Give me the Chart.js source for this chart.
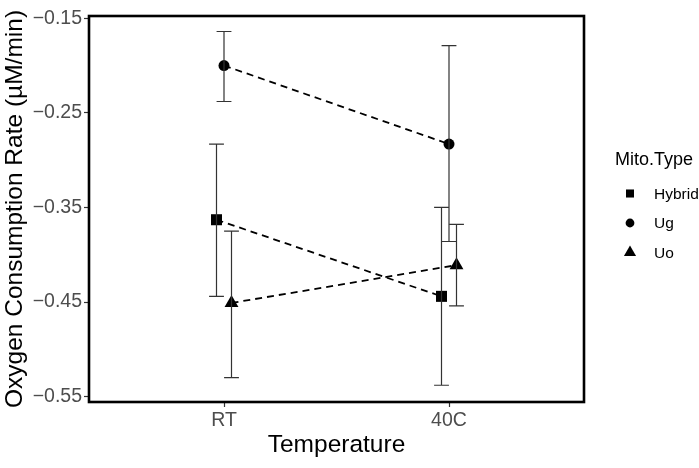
<!DOCTYPE html>
<html>
<head>
<meta charset="utf-8">
<script src="https://cdn.jsdelivr.net/npm/chart.js@4.4.0/dist/chart.umd.min.js"></script>
<style>
html, body { margin: 0; padding: 0; background: #fff; }
#wrap { width: 699px; height: 468px; }
</style>
</head>
<body>
<div id="wrap"><canvas id="chart" width="699" height="468"></canvas></div>
<script>
// data
const categories = ['RT', '40C'];
const seriesNames = ['Hybrid', 'Ug', 'Uo'];
const hybridMean = [-0.363, -0.444];
const hybridLow  = [-0.444, -0.538];
const hybridHigh = [-0.283, -0.350];
const ugMean = [-0.200, -0.283];
const ugLow  = [-0.238, -0.386];
const ugHigh = [-0.164, -0.179];
const uoMean = [-0.451, -0.411];
const uoLow  = [-0.530, -0.454];
const uoHigh = [-0.375, -0.368];
const yTicks = [-0.55, -0.45, -0.35, -0.25, -0.15];

const FONT = "'Liberation Sans', Arial, Helvetica, sans-serif";
const dodge = 0.1;      // position_dodge width
const capHalf = 0.033;  // errorbar half width (x units)
const styles = ['rect', 'circle', 'triangle'];
const radii = [7.8, 5.5, 8];
const legendRadii = [5.7, 4.4, 7];

const means = [hybridMean, ugMean, uoMean];
const lows = [hybridLow, ugLow, uoLow];
const highs = [hybridHigh, ugHigh, uoHigh];

const datasets = seriesNames.map((name, s) => {
    const off = (s - 1) * dodge / 3;
    return {
        label: name,
        data: categories.map((c, i) => ({ x: i + 1 + off, y: means[s][i] })),
        low: lows[s],
        high: highs[s],
        off: off,
        showLine: true,
        borderColor: '#000',
        borderWidth: 1.8,
        borderDash: [7, 5],
        pointStyle: styles[s],
        pointRadius: radii[s],
        pointHoverRadius: radii[s],
        pointBackgroundColor: '#000',
        pointBorderWidth: 0
    };
});

const errorBars = {
    id: 'errorBars',
    afterDatasetsDraw(chart) {
        const ctx = chart.ctx;
        const xs = chart.scales.x, ys = chart.scales.y;
        ctx.save();
        ctx.strokeStyle = '#333';
        ctx.lineWidth = 1.2;
        chart.data.datasets.forEach(ds => {
            categories.forEach((c, i) => {
                const xc = xs.getPixelForValue(i + 1 + ds.off);
                const xl = xs.getPixelForValue(i + 1 + ds.off - capHalf);
                const xr = xs.getPixelForValue(i + 1 + ds.off + capHalf);
                const yl = ys.getPixelForValue(ds.low[i]);
                const yh = ys.getPixelForValue(ds.high[i]);
                ctx.beginPath();
                ctx.moveTo(xc, yl); ctx.lineTo(xc, yh);
                ctx.moveTo(xl, yl); ctx.lineTo(xr, yl);
                ctx.moveTo(xl, yh); ctx.lineTo(xr, yh);
                ctx.stroke();
            });
        });
        ctx.restore();
    }
};

const panelAndLegend = {
    id: 'panelAndLegend',
    afterDraw(chart) {
        const ctx = chart.ctx;
        const a = chart.chartArea;
        ctx.save();
        ctx.strokeStyle = '#000';
        ctx.lineWidth = 2.6;
        ctx.strokeRect(a.left, a.top, a.right - a.left, a.bottom - a.top);

        // legend
        ctx.fillStyle = '#000';
        ctx.textBaseline = 'middle';
        ctx.textAlign = 'left';
        ctx.font = '18px ' + FONT;
        ctx.fillText('Mito.Type', 615, 160);
        ctx.font = '15.5px ' + FONT;
        const ly = [193.5, 223, 252.5];
        seriesNames.forEach((name, s) => {
            Chart.helpers.drawPoint(ctx, { pointStyle: styles[s], radius: legendRadii[s], rotation: 0, borderWidth: 0 }, 630, ly[s]);
            ctx.fillText(name, 654, ly[s] + 1);
        });
        ctx.restore();
    }
};

new Chart(document.getElementById('chart'), {
    type: 'scatter',
    data: { datasets: datasets },
    options: {
        responsive: false,
        animation: false,
        devicePixelRatio: 1,
        layout: { padding: { top: 16, right: 115, left: 0, bottom: 0 } },
        plugins: { legend: { display: false }, tooltip: { enabled: false } },
        scales: {
            x: {
                type: 'linear',
                min: 0.4,
                max: 2.6,
                afterBuildTicks: s => { s.ticks = categories.map((c, i) => ({ value: i + 1 })); },
                afterFit: s => { s.height = 66; },
                ticks: {
                    callback: v => categories[v - 1],
                    color: '#4d4d4d',
                    font: { family: FONT, size: 19.5 },
                    padding: 2,
                    maxRotation: 0
                },
                grid: { drawOnChartArea: false, drawTicks: true, tickLength: 5, tickColor: '#333', tickWidth: 1.2 },
                border: { display: false },
                title: { display: true, text: 'Temperature', color: '#000', font: { family: FONT, size: 24.5 }, padding: { top: 0, bottom: 8 } }
            },
            y: {
                min: -0.5557,
                max: -0.1476,
                afterBuildTicks: s => { s.ticks = yTicks.map(v => ({ value: v })); },
                afterFit: s => { s.width = 89; },
                ticks: {
                    callback: v => '\u2212' + Math.abs(v).toFixed(2),
                    color: '#4d4d4d',
                    font: { family: FONT, size: 19.5 },
                    padding: 2
                },
                grid: { drawOnChartArea: false, drawTicks: true, tickLength: 5, tickColor: '#333', tickWidth: 1.2 },
                border: { display: false },
                title: { display: true, text: 'Oxygen Consumption Rate (\u00b5M/min)', color: '#000', font: { family: FONT, size: 24.5 }, padding: { top: 1, bottom: 0 } }
            }
        }
    },
    plugins: [errorBars, panelAndLegend]
});
</script>
</body>
</html>
